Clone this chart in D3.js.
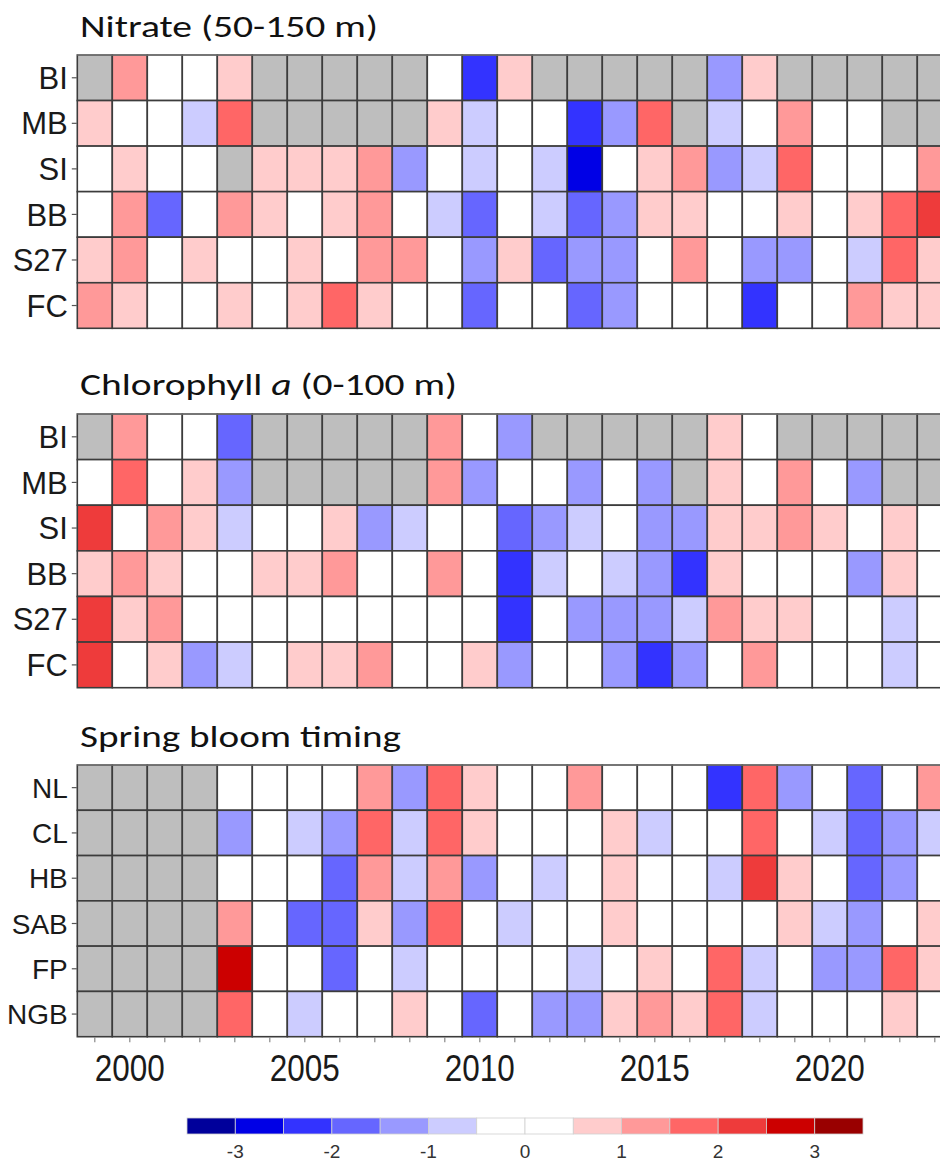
<!DOCTYPE html>
<html>
<head>
<meta charset="utf-8">
<script src="https://cdn.jsdelivr.net/npm/d3@7"></script>
<style>
  html, body { margin: 0; padding: 0; background: #fff; overflow: hidden; }
  svg { display: block; }
</style>
</head>
<body>
<svg id="chart" width="940" height="1162"></svg>
<script>
// ---------------- DATA ----------------
const years = d3.range(1999, 2024);
const yearTickLabels = [2000, 2005, 2010, 2015, 2020];

const nitrateStations = ["BI", "MB", "SI", "BB", "S27", "FC"];
const nitrate_BI  = [null, 1.3, 0, 0, 0.8, null, null, null, null, null, 0, -2.2, 0.8, null, null, null, null, null, -1.2, 0.7, null, null, null, null, null];
const nitrate_MB  = [0.8, 0, 0, -0.8, 1.8, null, null, null, null, null, 0.7, -0.7, 0, 0, -2.3, -1.3, 1.8, null, -0.7, 0, 1.2, 0, 0, null, null];
const nitrate_SI  = [0, 0.7, 0, 0, null, 0.8, 0.7, 0.8, 1.3, -1.3, 0, -0.8, 0, -0.7, -2.8, 0, 0.8, 1.2, -1.2, -0.7, 1.8, 0, 0, 0, 1.2];
const nitrate_BB  = [0, 1.2, -1.8, 0, 1.3, 0.8, 0, 0.7, 1.2, 0, -0.7, -1.8, 0, -0.8, -1.7, -1.3, 0.8, 0.7, 0, 0, 0.7, 0, 0.8, 1.8, 2.2];
const nitrate_S27 = [0.8, 1.3, 0, 0.7, 0, 0, 0.8, 0, 1.2, 1.3, 0, -1.2, 0.7, -1.8, -1.3, -1.2, 0, 1.3, 0, -1.2, -1.3, 0, -0.8, 1.7, 0.8];
const nitrate_FC  = [1.3, 0.8, 0, 0, 0.7, 0, 0.8, 1.8, 0.7, 0, 0, -1.8, 0, 0, -1.7, -1.2, 0, 0, 0, -2.3, 0, 0, 1.2, 0.8, 0.7];

const chlStations = ["BI", "MB", "SI", "BB", "S27", "FC"];
const chl_BI  = [null, 1.2, 0, 0, -1.8, null, null, null, null, null, 1.3, 0, -1.2, null, null, null, null, null, 0.8, 0, null, null, null, null, null];
const chl_MB  = [0, 1.8, 0, 0.7, -1.2, null, null, null, null, null, 1.2, -1.3, 0, 0, -1.2, 0, -1.3, null, 0.8, 0, 1.3, 0, -1.2, null, null];
const chl_SI  = [2.3, 0, 1.2, 0.8, -0.7, 0, 0, 0.7, -1.3, -0.8, 0, 0, -1.8, -1.2, -0.7, 0, -1.3, -1.2, 0.8, 0.7, 1.3, 0.8, 0, 0.7, 0];
const chl_BB  = [0.8, 1.2, 0.7, 0, 0, 0.8, 0.7, 1.3, 0, 0, 1.2, 0, -2.3, -0.7, 0, -0.8, -1.2, -2.2, 0.8, 0, 0, 0, -1.3, 0.7, 0];
const chl_S27 = [2.2, 0.8, 1.3, 0, 0, 0, 0, 0, 0, 0, 0, 0, -2.3, 0, -1.2, -1.3, -1.2, -0.7, 1.3, 0.8, 0.7, 0, 0, -0.8, 0];
const chl_FC  = [2.2, 0, 0.8, -1.2, -0.7, 0, 0.7, 0.8, 1.2, 0, 0, 0.7, -1.2, 0, 0, -1.3, -2.2, -1.2, 0, 1.2, 0, 0, 0, -0.7, 0];

const bloomRegions = ["NL", "CL", "HB", "SAB", "FP", "NGB"];
const bloom_NL  = [null, null, null, null, 0, 0, 0, 0, 1.3, -1.2, 1.8, 0.7, 0, 0, 1.2, 0, 0, 0, -2.3, 1.8, -1.3, 0, -1.8, 0, 1.2];
const bloom_CL  = [null, null, null, null, -1.2, 0, -0.7, -1.3, 1.8, -0.7, 1.7, 0.7, 0, 0, 0, 0.8, -0.7, 0, 0, 1.8, 0, -0.8, -1.8, -1.2, -0.7];
const bloom_HB  = [null, null, null, null, 0, 0, 0, -1.8, 1.2, -0.7, 1.3, -1.2, 0, -0.8, 0, 0.7, 0, 0, -0.7, 2.2, 0.8, 0, -1.8, -1.3, 0];
const bloom_SAB = [null, null, null, null, 1.2, 0, -1.8, -1.7, 0.8, -1.2, 1.8, 0, -0.7, 0, 0, 0.7, 0, 0, 0, 0, 0.8, -0.7, -1.2, 0, 0.7];
const bloom_FP  = [null, null, null, null, 2.8, 0, 0, -1.8, 0, -0.7, 0, 0, 0, 0, -0.8, 0, 0.7, 0, 1.8, -0.7, 0, -1.2, -1.3, 1.7, 0.8];
const bloom_NGB = [null, null, null, null, 1.8, 0, -0.7, 0, 0, 0.7, 0, -1.8, 0, -1.2, -1.3, 0.8, 1.2, 0.7, 1.8, -0.7, 0, 0, 0, 0.8, 0];

const legendBreaks = [-3, -2.5, -2, -1.5, -1, -0.5, 0, 0.5, 1, 1.5, 2, 2.5, 3];
const legendColors = ["#00009b", "#0000e6", "#3333ff", "#6666ff", "#9999ff", "#ccccff", "#ffffff",
                      "#ffffff", "#ffcccc", "#ff9999", "#ff6666", "#ee3b3b", "#cc0000", "#990000"];
const legendTickLabels = [-3, -2, -1, 0, 1, 2, 3];
const missingColor = "#bebebe";

// ---------------- CHART ----------------
const svg = d3.select("#chart");
const color = d3.scaleThreshold().domain(legendBreaks).range(legendColors);
const x = d3.scaleBand().domain(years).range([77.3, 77.3 + 35 * years.length]).padding(0);

const panels = [
  { title: "nitrate", rows: nitrateStations, data: [nitrate_BI, nitrate_MB, nitrate_SI, nitrate_BB, nitrate_S27, nitrate_FC],
    y0: 55, y1: 328.3, titleY: 36.7, titleLen: 298, labelSize: 31 },
  { title: "chl", rows: chlStations, data: [chl_BI, chl_MB, chl_SI, chl_BB, chl_S27, chl_FC],
    y0: 414, y1: 687.7, titleY: 395, titleLen: 377, labelSize: 31 },
  { title: "bloom", rows: bloomRegions, data: [bloom_NL, bloom_CL, bloom_HB, bloom_SAB, bloom_FP, bloom_NGB],
    y0: 765, y1: 1036.7, titleY: 746.7, titleLen: 321, labelSize: 28 }
];

const titleFont = "Carlito, Calibri, Lato, 'Open Sans', sans-serif";
const labelFont = "'Liberation Sans', Arial, Helvetica, sans-serif";

panels.forEach(p => {
  const y = d3.scaleBand().domain(p.rows).range([p.y0, p.y1]).padding(0);
  const g = svg.append("g");

  // title
  const t = g.append("text")
    .attr("x", 80).attr("y", p.titleY)
    .attr("font-family", titleFont).attr("font-size", 31).attr("fill", "#111")
    .attr("textLength", p.titleLen).attr("lengthAdjust", "spacingAndGlyphs");
  if (p.title === "nitrate") t.text("Nitrate (50-150 m)");
  else if (p.title === "chl") {
    t.append("tspan").text("Chlorophyll ");
    t.append("tspan").attr("font-style", "italic").text("a");
    t.append("tspan").text(" (0-100 m)");
  } else t.text("Spring bloom timing");

  // cells
  const cells = [];
  p.rows.forEach((r, i) => p.data[i].forEach((v, j) => cells.push({ row: r, year: years[j], v })));
  g.selectAll("rect.cell").data(cells).join("rect")
    .attr("class", "cell")
    .attr("x", d => x(d.year)).attr("y", d => y(d.row))
    .attr("width", x.bandwidth()).attr("height", y.bandwidth())
    .attr("fill", d => d.v === null ? missingColor : color(d.v))
    .attr("stroke", "#3c3c3c").attr("stroke-width", 1.6);

  // top frame line (lighter)
  g.append("line").attr("x1", x.range()[0]).attr("x2", x.range()[1])
    .attr("y1", p.y0).attr("y2", p.y0).attr("stroke", "#8a8a8a").attr("stroke-width", 1.2);

  // y axis
  const yAxis = d3.axisLeft(y).tickSize(5).tickPadding(4);
  const ya = g.append("g").attr("transform", `translate(${x.range()[0] - 0.5},0)`).call(yAxis);
  ya.select(".domain").remove();
  ya.selectAll(".tick line").attr("stroke", "#555").attr("stroke-width", 1.2);
  ya.selectAll(".tick text")
    .attr("font-family", labelFont).attr("font-size", p.labelSize).attr("fill", "#1a1a1a")
    .attr("dy", "0.36em");
});

// x axis under last panel
const last = panels[2];
const xa = svg.append("g").attr("transform", `translate(0,${last.y1 + 0.5})`)
  .call(d3.axisBottom(x).tickSize(5).tickFormat(""));
xa.select(".domain").remove();
xa.selectAll(".tick line").attr("stroke", "#888").attr("stroke-width", 1.2);

svg.append("g").selectAll("text").data(yearTickLabels).join("text")
  .attr("x", d => x(d) + x.bandwidth() / 2).attr("y", 1081)
  .attr("text-anchor", "middle")
  .attr("font-family", labelFont).attr("font-size", 37).attr("fill", "#1a1a1a")
  .attr("textLength", 70).attr("lengthAdjust", "spacingAndGlyphs")
  .text(d => d);

// legend
const legX0 = 187, legX1 = 863, legY = 1118, legH = 16;
const lx = d3.scaleLinear().domain([-3.5, 3.5]).range([legX0, legX1]);
const legBins = legendColors.map((c, i) => ({ c, a: -3.5 + i * 0.5, b: -3 + i * 0.5 }));
svg.append("g").selectAll("rect").data(legBins).join("rect")
  .attr("x", d => lx(d.a)).attr("y", legY)
  .attr("width", d => lx(d.b) - lx(d.a)).attr("height", legH)
  .attr("fill", d => d.c)
  .attr("stroke", "#d0d0d0").attr("stroke-width", 0.8);
svg.append("g").selectAll("text").data(legendTickLabels).join("text")
  .attr("x", d => lx(d)).attr("y", 1158)
  .attr("text-anchor", "middle")
  .attr("font-family", labelFont).attr("font-size", 19).attr("fill", "#333")
  .text(d => d);
</script>
</body>
</html>
